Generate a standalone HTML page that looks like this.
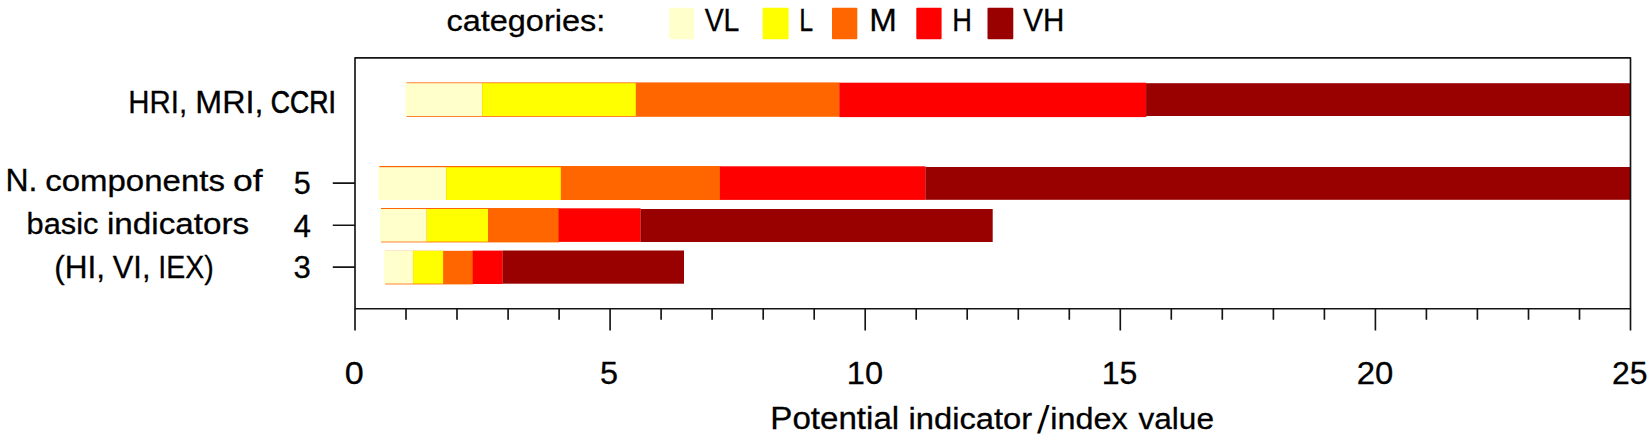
<!DOCTYPE html>
<html><head><meta charset="utf-8"><title>Potential indicator/index value</title>
<style>
html,body{margin:0;padding:0;background:#fff;}
body{width:1652px;height:441px;overflow:hidden;}
svg{display:block;}
text{font-family:"Liberation Sans",sans-serif;fill:#000;stroke:#000;stroke-width:0.3px;}
</style></head><body>
<svg width="1652" height="441" viewBox="0 0 1652 441">
<rect x="0" y="0" width="1652" height="441" fill="#fff"/>
<!-- legend swatches -->
<rect x="669.2" y="7.7" width="24.8" height="31.5" rx="1" fill="#ffffcc"/>
<rect x="762.6" y="7.7" width="26" height="31.5" rx="1" fill="#ffff00"/>
<rect x="832" y="7.7" width="25.3" height="31.5" rx="1" fill="#ff6600"/>
<rect x="916.3" y="7.7" width="25.3" height="31.5" rx="1" fill="#ff0000"/>
<rect x="987.5" y="7.7" width="25.8" height="31.5" rx="1" fill="#990000"/>
<!-- bars -->
<g id="bar1">
<rect x="406.5" y="82.4" width="433" height="34.4" fill="#ff6600"/>
<rect x="839.3" y="82.7" width="307" height="34.4" fill="#ff0000"/>
<rect x="405.5" y="83.2" width="76.7" height="32.8" fill="#ffffcc"/>
<rect x="482.2" y="83.2" width="153.6" height="32.8" fill="#ffff00"/>
<rect x="1146.1" y="83.2" width="484" height="32.8" fill="#990000"/>
</g>
<g id="bar2">
<rect x="379.4" y="166" width="341" height="34" fill="#ff6600"/>
<rect x="719.9" y="166.3" width="205.6" height="33.6" fill="#ff0000"/>
<rect x="378.4" y="167.2" width="67.8" height="32.8" fill="#ffffcc"/>
<rect x="446.2" y="167.2" width="114.6" height="32.8" fill="#ffff00"/>
<rect x="925.4" y="167" width="705" height="32.8" fill="#990000"/>
</g>
<g id="bar3">
<rect x="381" y="208" width="178" height="34.4" fill="#ff6600"/>
<rect x="558.6" y="208.3" width="82" height="33.6" fill="#ff0000"/>
<rect x="380" y="209" width="46.7" height="32.6" fill="#ffffcc"/>
<rect x="426.7" y="209" width="61.3" height="32.6" fill="#ffff00"/>
<rect x="640.5" y="209" width="352.2" height="33" fill="#990000"/>
</g>
<g id="bar4">
<rect x="385.2" y="250.8" width="88" height="33.6" fill="#ff6600"/>
<rect x="472.7" y="250.6" width="30" height="33.4" fill="#ff0000"/>
<rect x="384.2" y="250.8" width="28.9" height="32.8" fill="#ffffcc"/>
<rect x="413.1" y="250.8" width="30" height="32.8" fill="#ffff00"/>
<rect x="502.6" y="250.5" width="181.4" height="33.2" fill="#990000"/>
</g>
<!-- frame & axes -->
<g stroke="#141414" stroke-width="1.65" fill="none" stroke-linecap="butt" stroke-linejoin="round">
<rect x="355.0" y="57.9" width="1275.5" height="250.8"/>
<path id="yticks" d="M332.8 183.1H355 M332.8 225.2H355 M332.8 267.1H355"/>
<path id="xticks" d="M355.0 308.7V330.5 M406.0 308.7V319.7 M457.0 308.7V319.7 M508.1 308.7V319.7 M559.1 308.7V319.7 M610.1 308.7V330.5 M661.1 308.7V319.7 M712.1 308.7V319.7 M763.2 308.7V319.7 M814.2 308.7V319.7 M865.2 308.7V330.5 M916.2 308.7V319.7 M967.2 308.7V319.7 M1018.3 308.7V319.7 M1069.3 308.7V319.7 M1120.3 308.7V330.5 M1171.3 308.7V319.7 M1222.3 308.7V319.7 M1273.4 308.7V319.7 M1324.4 308.7V319.7 M1375.4 308.7V330.5 M1426.4 308.7V319.7 M1477.4 308.7V319.7 M1528.5 308.7V319.7 M1579.5 308.7V319.7 M1630.5 308.7V330.5"/>
</g>
<!-- text -->
<text id="t_cat" x="446.43" y="31" font-size="30" textLength="158.80" lengthAdjust="spacingAndGlyphs">categories:</text>
<text id="t_vl" x="704.65" y="31" font-size="32" textLength="34.75" lengthAdjust="spacingAndGlyphs">VL</text>
<text id="t_l" x="799.16" y="31" font-size="32" textLength="13.88" lengthAdjust="spacingAndGlyphs">L</text>
<text id="t_m" x="869.20" y="31" font-size="32" textLength="27.60" lengthAdjust="spacingAndGlyphs">M</text>
<text id="t_h" x="952.29" y="31" font-size="32" textLength="19.68" lengthAdjust="spacingAndGlyphs">H</text>
<text id="t_vh" x="1023.35" y="31" font-size="32" textLength="41.08" lengthAdjust="spacingAndGlyphs">VH</text>
<text id="t_hri1" x="128.30" y="113" font-size="32" textLength="58.83" lengthAdjust="spacingAndGlyphs">HRI,</text>
<text id="t_hri2" x="195.33" y="113" font-size="32" textLength="68.07" lengthAdjust="spacingAndGlyphs">MRI,</text>
<text id="t_hri3" style="stroke-width:0.7px" x="270.77" y="113" font-size="32" textLength="65.01" lengthAdjust="spacingAndGlyphs">CCRI</text>
<text id="t_n1a" x="5.42" y="191" font-size="32" textLength="31.96" lengthAdjust="spacingAndGlyphs">N.</text>
<text id="t_n1b" x="45.26" y="191" font-size="30" textLength="179.62" lengthAdjust="spacingAndGlyphs">components</text>
<text id="t_n1c" x="233.02" y="191" font-size="30" textLength="29.60" lengthAdjust="spacingAndGlyphs">of</text>
<text id="t_n2a" x="26.64" y="234" font-size="30" textLength="71.84" lengthAdjust="spacingAndGlyphs">basic</text>
<text id="t_n2b" x="106.99" y="234" font-size="30" textLength="142.22" lengthAdjust="spacingAndGlyphs">indicators</text>
<text id="t_n3a" x="54.13" y="278" font-size="32" textLength="50.83" lengthAdjust="spacingAndGlyphs">(HI,</text>
<text id="t_n3b" x="112.86" y="278" font-size="32" textLength="37.60" lengthAdjust="spacingAndGlyphs">VI,</text>
<text id="t_n3c" x="158.25" y="278" font-size="32" textLength="55.37" lengthAdjust="spacingAndGlyphs">IEX)</text>
<text id="t_5" x="293.71" y="194" font-size="32" textLength="16.99" lengthAdjust="spacingAndGlyphs">5</text>
<text id="t_4" x="293.41" y="237" font-size="32" textLength="17.44" lengthAdjust="spacingAndGlyphs">4</text>
<text id="t_3" x="293.56" y="278" font-size="32" textLength="17.25" lengthAdjust="spacingAndGlyphs">3</text>
<text id="x0" x="344.73" y="384" font-size="32" textLength="18.96" lengthAdjust="spacingAndGlyphs">0</text>
<text id="x5" x="599.98" y="384" font-size="32" textLength="18.02" lengthAdjust="spacingAndGlyphs">5</text>
<text id="x10" x="846.84" y="384" font-size="32" textLength="36.19" lengthAdjust="spacingAndGlyphs">10</text>
<text id="x15" x="1101.66" y="384" font-size="32" textLength="35.64" lengthAdjust="spacingAndGlyphs">15</text>
<text id="x20" x="1356.65" y="384" font-size="32" textLength="36.54" lengthAdjust="spacingAndGlyphs">20</text>
<text id="x25" x="1612.06" y="384" font-size="32" textLength="35.53" lengthAdjust="spacingAndGlyphs">25</text>
<text id="t_ta" x="770.32" y="429" font-size="31" textLength="128.88" lengthAdjust="spacingAndGlyphs">Potential</text>
<text id="t_tb1" x="908.49" y="429" font-size="30" textLength="123.71" lengthAdjust="spacingAndGlyphs">indicator</text>
<text id="t_tb2" transform="translate(1037.0,433) skewX(-3.7)" x="0" y="0" font-size="38.5" style="stroke-width:0">/</text>
<text id="t_tb3" x="1050.39" y="429" font-size="30" textLength="77.41" lengthAdjust="spacingAndGlyphs">index</text>
<text id="t_tc" x="1138.52" y="429" font-size="30" textLength="75.46" lengthAdjust="spacingAndGlyphs">value</text>
</svg>
</body></html>
